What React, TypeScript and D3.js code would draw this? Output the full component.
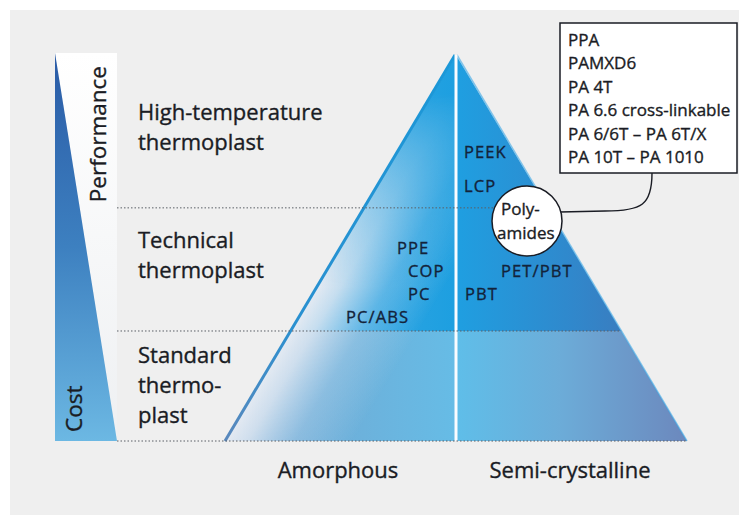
import React from "react";
import * as d3 from "d3";

// tiers of the pyramid, bottom to top, and the share of the height where each one ends
const tierNames = [
  ["Standard", "thermo-", "plast"],
  ["Technical", "thermoplast"],
  ["High-temperature", "thermoplast"],
];
const tierTops = [28.5, 60.4, 100];

const sideLabels = ["Amorphous", "Semi-crystalline"];
const amorphous = ["PPE", "COP", "PC", "PC/ABS"];
const semiCrystalline = ["PEEK", "LCP", "PET/PBT", "PBT"];
const polyamides = [
  "PPA",
  "PAMXD6",
  "PA 4T",
  "PA 6.6 cross-linkable",
  "PA 6/6T – PA 6T/X",
  "PA 10T – PA 1010",
];
const axisNames = ["Performance", "Cost"];

const W = 739;
const H = 515;
const FONT = "'Open Sans', 'Noto Sans', sans-serif";
const INK = "#1a1c24";

const App = () => {
  // y: share of pyramid height -> px ; x: -1..1 across the base
  const y = d3.scaleLinear().domain([0, 100]).range([441, 55]);
  const x = d3.scaleLinear().domain([-1, 1]).range([225, 687]);
  const cx = x(0);
  const edge = (h, side) => x(side * (1 - h / 100));

  const line = d3.line();
  const t0 = tierTops[0];
  const leftAll = line([[x(-1), y(0)], [cx, y(100)], [cx, y(0)]]) + "Z";
  const leftHalf = line([[edge(t0, -1), y(t0)], [cx, y(100)], [cx, y(t0)]]) + "Z";
  const rightHalf = line([[cx, y(t0)], [cx, y(100)], [edge(t0, 1), y(t0)]]) + "Z";
  const lowLeft = line([[x(-1), y(0)], [edge(t0, -1), y(t0)], [cx, y(t0)], [cx, y(0)]]) + "Z";
  const lowRight = line([[cx, y(0)], [cx, y(t0)], [edge(t0, 1), y(t0)], [x(1), y(0)]]) + "Z";

  // inward normal of the left slope, for the pale sheen along it
  const dx = cx - x(-1), dy = y(100) - y(0);
  const len = Math.hypot(dx, dy);
  const nx = -dy / len, ny = dx / len;
  const p0 = [edge(50, -1), y(50)];
  const p1 = [p0[0] + nx * 110, p0[1] + ny * 110];

  const barL = 55, barR = 117;
  const barTop = y(100) - 2;

  // first baseline of each tier label
  const tierBase = [363, 248, 120];

  // material labels placed by hand inside the pyramid
  const amorphPos = [[397, 254], [408, 277], [408, 300], [346, 323]];
  const semiPos = [[464, 158], [464, 192], [501, 277], [465, 300]];

  const rowY = d3.scaleLinear().domain([0, polyamides.length - 1]).range([46, 163]);

  const txt = { fontFamily: FONT, fill: INK, stroke: INK, strokeWidth: 0.35 };

  return (
    <div style={{ position: "absolute", left: 0, top: 0 }}>
      <svg width={W} height={H} style={{ display: "block", background: "#fff" }}>
        <defs>
          <linearGradient id="barBlue" x1="0" y1="0" x2="0" y2="1">
            <stop offset="0" stopColor="#2a5ba6" />
            <stop offset="0.5" stopColor="#3d80c0" />
            <stop offset="1" stopColor="#6cb8e3" />
          </linearGradient>
          <linearGradient id="barWhite" x1="0" y1="0" x2="0" y2="1">
            <stop offset="0" stopColor="#ffffff" />
            <stop offset="1" stopColor="#eef0f2" />
          </linearGradient>
          <linearGradient id="leftFill" gradientUnits="userSpaceOnUse" x1={x(-1)} y1="0" x2={cx} y2="0">
            <stop offset="0" stopColor="#4aaee6" />
            <stop offset="1" stopColor="#1d9fe0" />
          </linearGradient>
          <linearGradient id="rightFill" gradientUnits="userSpaceOnUse" x1={cx} y1="0" x2={x(1)} y2="0">
            <stop offset="0" stopColor="#1f9fe1" />
            <stop offset="0.5" stopColor="#3088cc" />
            <stop offset="1" stopColor="#456fb0" />
          </linearGradient>
          <linearGradient id="lowLeftFill" gradientUnits="userSpaceOnUse" x1={x(-1)} y1="0" x2={cx} y2="0">
            <stop offset="0" stopColor="#74a8d4" />
            <stop offset="0.6" stopColor="#6cb2dc" />
            <stop offset="1" stopColor="#66bce6" />
          </linearGradient>
          <linearGradient id="lowRightFill" gradientUnits="userSpaceOnUse" x1={cx} y1="0" x2={x(1)} y2="0">
            <stop offset="0" stopColor="#5fbee9" />
            <stop offset="0.45" stopColor="#6cacd8" />
            <stop offset="1" stopColor="#6c88bd" />
          </linearGradient>
          <linearGradient id="sheen" gradientUnits="userSpaceOnUse" x1={p0[0]} y1={p0[1]} x2={p1[0]} y2={p1[1]}>
            <stop offset="0" stopColor="#e4eaf2" stopOpacity={1} />
            <stop offset="0.18" stopColor="#dfe7f1" stopOpacity={0.85} />
            <stop offset="0.55" stopColor="#cfe0f0" stopOpacity={0.3} />
            <stop offset="1" stopColor="#cfe0f0" stopOpacity={0} />
          </linearGradient>
          <linearGradient id="fadeGrad" gradientUnits="userSpaceOnUse" x1="0" y1={y(90)} x2="0" y2={y(40)}>
            <stop offset="0" stopColor="#000" />
            <stop offset="1" stopColor="#fff" />
          </linearGradient>
          <mask id="fadeUp" maskUnits="userSpaceOnUse" x={0} y={0} width={W} height={H}>
            <rect x={0} y={0} width={W} height={H} fill="url(#fadeGrad)" />
          </mask>
          <linearGradient id="edgeLeft" gradientUnits="userSpaceOnUse" x1="0" y1={y(100)} x2="0" y2={y(0)}>
            <stop offset="0" stopColor="#1a98d8" />
            <stop offset="0.7" stopColor="#2a90d0" />
            <stop offset="1" stopColor="#5a88bc" />
          </linearGradient>
        </defs>

        <rect x={10} y={10} width={W - 10} height={H - 10} fill="#efefef" />

        {/* performance / cost bar */}
        <path d={line([[barL, barTop], [barR, barTop], [barR, y(0)]]) + "Z"} fill="url(#barWhite)" />
        <path d={line([[barL, barTop], [barR, y(0)], [barL, y(0)]]) + "Z"} fill="url(#barBlue)" />
        <text transform={`translate(106,${barTop + 13}) rotate(-90)`} textAnchor="end" fontSize={22.5} {...txt}>
          {axisNames[0]}
        </text>
        <text transform={`translate(82,${y(0) - 9}) rotate(-90)`} fontSize={22.5} {...txt}>
          {axisNames[1]}
        </text>

        {/* pyramid */}
        <path d={leftHalf} fill="url(#leftFill)" />
        <path d={rightHalf} fill="url(#rightFill)" />
        <path d={lowLeft} fill="url(#lowLeftFill)" />
        <path d={lowRight} fill="url(#lowRightFill)" />
        <path d={leftAll} fill="url(#sheen)" mask="url(#fadeUp)" />
        <path d={line([[x(-1), y(0)], [cx - 1, y(100)]])} stroke="url(#edgeLeft)" strokeWidth={3} fill="none" />
        <path d={line([[cx + 1, y(100)], [x(1), y(0)]])} stroke="#38a6e6" strokeWidth={1.5} fill="none" opacity={0.6} />
        <line x1={cx} x2={cx} y1={y(100)} y2={y(0)} stroke="#fafcff" strokeWidth={3} />

        {/* tier separators */}
        {[0, ...tierTops.slice(0, 2)].map((t) => (
          <line
            key={t}
            x1={barR}
            x2={edge(t, 1)}
            y1={y(t)}
            y2={y(t)}
            stroke="#5a5f66"
            strokeWidth={1}
            strokeDasharray="1.5,2"
          />
        ))}

        {tierNames.map((lines, i) => (
          <text key={i} fontSize={22} {...txt}>
            {lines.map((s, j) => (
              <tspan key={j} x={138} y={tierBase[i] + j * 30}>
                {s}
              </tspan>
            ))}
          </text>
        ))}

        {amorphous.map((s, i) => (
          <text key={s} x={amorphPos[i][0]} y={amorphPos[i][1]} fontSize={16.5} letterSpacing={1.1} {...txt} fill="#13233a" stroke="#13233a">
            {s}
          </text>
        ))}
        {semiCrystalline.map((s, i) => (
          <text key={s} x={semiPos[i][0]} y={semiPos[i][1]} fontSize={16.5} letterSpacing={1.1} {...txt} fill="#13233a" stroke="#13233a">
            {s}
          </text>
        ))}

        {/* polyamide callout */}
        <path d="M652,173 C652,205 642,211 605,211 L560,212" fill="none" stroke={INK} strokeWidth={1.4} />
        <circle cx={527} cy={221} r={35} fill="#ffffff" stroke={INK} strokeWidth={1.5} />
        <text fontSize={17} {...txt}>
          <tspan x={501} y={215}>Poly-</tspan>
          <tspan x={497} y={239}>amides</tspan>
        </text>
        <rect x={560} y={23} width={177} height={150} fill="#ffffff" stroke={INK} strokeWidth={1.5} />
        {polyamides.map((s, i) => (
          <text key={s} x={568} y={rowY(i)} fontSize={17} {...txt}>
            {s}
          </text>
        ))}

        {sideLabels.map((s, i) => (
          <text key={s} x={i === 0 ? 338 : 570} y={478} textAnchor="middle" fontSize={22} {...txt}>
            {s}
          </text>
        ))}
      </svg>
    </div>
  );
};

export default App;
